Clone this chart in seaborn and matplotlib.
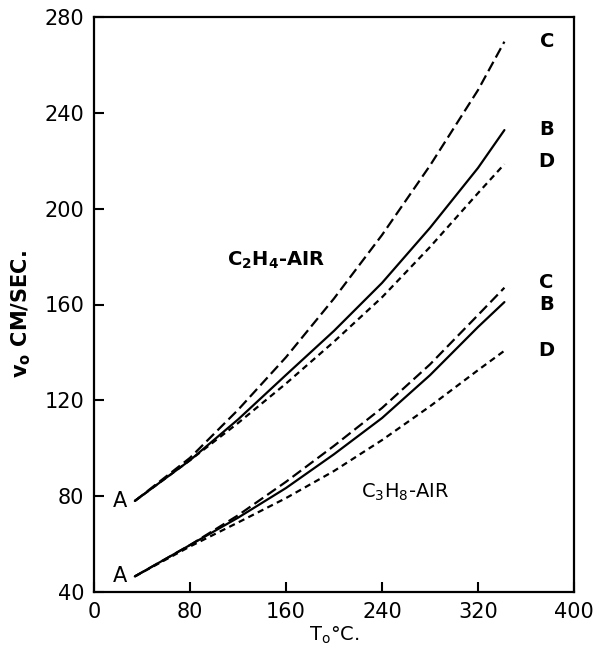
import matplotlib
matplotlib.use("Agg")
import matplotlib.pyplot as plt
import seaborn as sns
import pandas as pd

# ---- data ----
T = [34, 80, 120, 160, 200, 240, 280, 320, 342]

c2h4_B = [78, 95, 112, 130.6, 149, 169, 192, 217, 232.8]
c2h4_C = [78, 96, 116, 138, 162.5, 189, 218, 249.5, 269.7]
c2h4_D = [78, 95, 110.5, 127, 144.5, 163, 184, 206.5, 218.6]

c3h8_B = [46.5, 59.6, 71, 83.4, 97.5, 112.6, 130.5, 150.6, 161]
c3h8_C = [46.5, 59.6, 72, 86, 101, 116.8, 135, 155.6, 167]
c3h8_D = [46.5, 59, 69, 79.2, 90.5, 103.4, 117.5, 132.6, 140.7]

x_ticks = [0, 80, 160, 240, 320, 400]
y_ticks = [40, 80, 120, 160, 200, 240, 280]

curve_labels = ["C", "B", "D"]

sns.set_style("white")
plt.rcParams['font.family'] = ['DejaVu Sans']
plt.rcParams['text.color'] = 'black'
plt.rcParams['axes.labelcolor'] = 'black'

rows = []
for gas, series in [("C2H4", [c2h4_C, c2h4_B, c2h4_D]),
                    ("C3H8", [c3h8_C, c3h8_B, c3h8_D])]:
    for lab, vals in zip(curve_labels, series):
        for t, v in zip(T, vals):
            rows.append({"gas": gas, "curve": lab, "T": t, "v": v})
df = pd.DataFrame(rows)

fig = plt.figure(figsize=(6.01, 6.56), dpi=100)
ax = fig.add_axes([94/601, 1-592/656, 480/601, 575/656])

dash_styles = {"C": (4.8, 2.2), "B": None, "D": (2.8, 2.0)}
groups = list(df.groupby(["gas", "curve"]))
for (gas, lab), sub in groups:
    sns.lineplot(data=sub, x="T", y="v", ax=ax, color="black",
                 linewidth=1.6, estimator=None, sort=True)

for ln, ((gas, lab), sub) in zip(ax.get_lines(), groups):
    if dash_styles[lab] is None:
        ln.set_linestyle("-")
    else:
        ln.set_dashes(dash_styles[lab])

ax.set_xlim(0, 400)
ax.set_ylim(40, 280)
ax.set_xticks(x_ticks)
ax.set_yticks(y_ticks)
ax.set_xticklabels([str(t) for t in x_ticks])
ax.set_yticklabels([str(t) for t in y_ticks])
ax.tick_params(direction="in", length=7, width=1.5, labelsize=15,
               color="black", labelcolor="black", pad=7,
               bottom=True, left=True, top=False, right=False)
for s in ax.spines.values():
    s.set_linewidth(1.6)
    s.set_color("black")

ax.set_xlabel("T$_\\mathregular{o}$°C.", fontsize=14, labelpad=2)
ax.set_ylabel("v$_\\mathregular{o}$ CM/SEC.", fontsize=15, fontweight="bold")
ax.yaxis.set_label_coords(-0.128, 0.483)

# curve letters
end_labels_c2h4 = [(378, 269.6, "C"), (377, 233, "B"), (377, 219.6, "D")]
end_labels_c3h8 = [(377, 169, "C"), (377, 160, "B"), (377, 140.6, "D")]
for x, y, s in end_labels_c2h4 + end_labels_c3h8:
    ax.text(x, y, s, fontsize=14, ha="center", va="center", fontweight="bold")
ax.text(22, 78, "A", fontsize=15, ha="center", va="center")
ax.text(22, 46.5, "A", fontsize=15, ha="center", va="center")

ax.text(152, 178.6, "C$_\\mathregular{2}$H$_\\mathregular{4}$-AIR", fontsize=14,
        ha="center", va="center", fontweight="bold")
ax.text(259, 81.7, "C$_\\mathregular{3}$H$_\\mathregular{8}$-AIR", fontsize=14,
        ha="center", va="center")

fig.savefig("out.png", dpi=100)
